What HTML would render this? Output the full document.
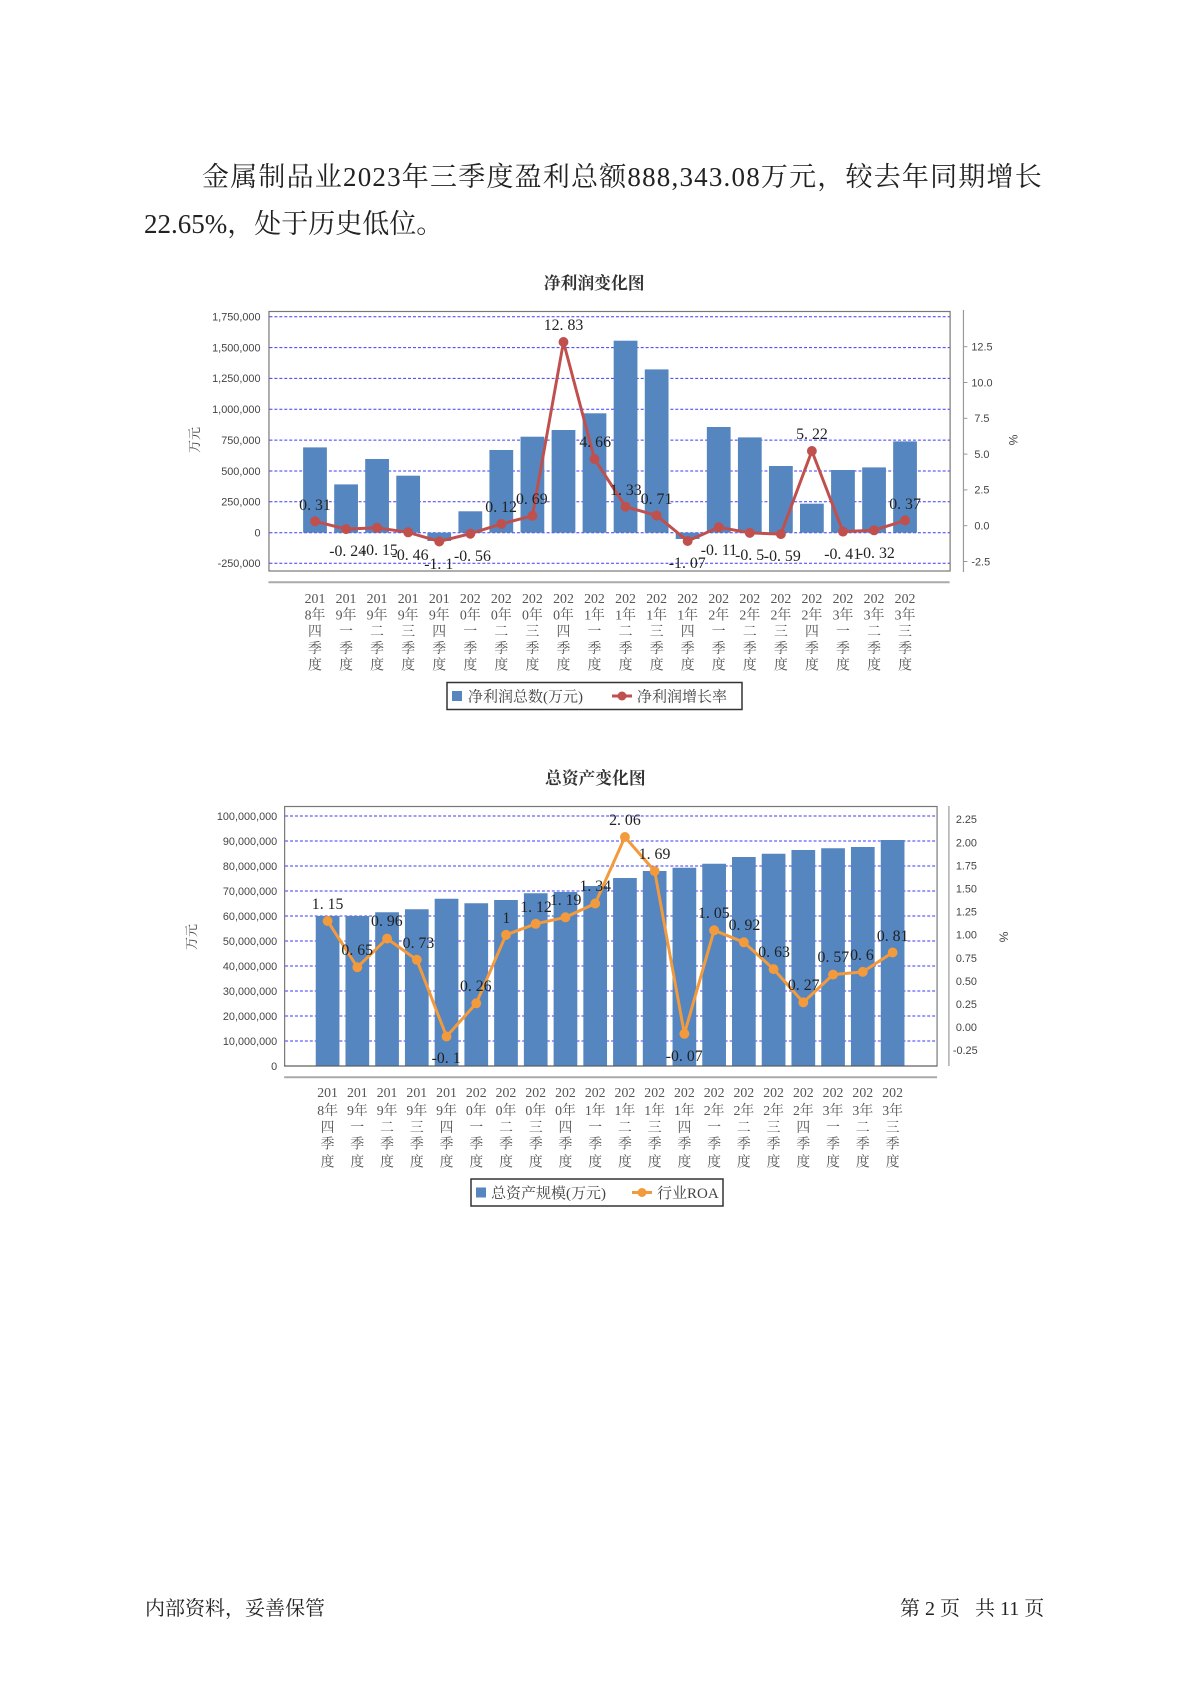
<!DOCTYPE html>
<html><head><meta charset="utf-8"><style>
html,body{margin:0;padding:0;background:#fff;}
body{width:1191px;height:1684px;position:relative;overflow:hidden;font-family:"Liberation Serif","Noto Serif CJK SC",serif;}
.p{position:absolute;font-size:27px;color:#222;white-space:nowrap;}
.f{position:absolute;font-size:20px;color:#222;white-space:nowrap;}
svg{position:absolute;left:0;top:0;}
</style></head><body>
<div class="p" style="left:202px;top:155px;letter-spacing:1.2px;">金属制品业2023年三季度盈利总额888,343.08万元，较去年同期增长</div>
<div class="p" style="left:144px;top:202px;">22.65%，处于历史低位。</div>
<div class="f" style="left:145px;top:1592px;">内部资料，妥善保管</div>
<div class="f" style="left:900px;top:1592px;">第 2 页&nbsp;&nbsp;&nbsp;共 11 页</div>
<svg width="1191" height="1684" viewBox="0 0 1191 1684" font-family="Liberation Serif, Noto Serif CJK SC, serif">
<!-- CHART 1 -->
<g transform="matrix(0.99,0,0,1,1.17,0)">
<text x="599" y="289" text-anchor="middle" font-size="17" font-weight="bold" fill="#333">净利润变化图</text>
<rect x="270.5" y="311.5" width="688" height="259.5" fill="#fff" stroke="#777" stroke-width="1.2"/>
<g stroke="#3a3aff" stroke-width="1" stroke-dasharray="3,2">
<line x1="271" x2="958" y1="316.7" y2="316.7"/><line x1="271" x2="958" y1="347.6" y2="347.6"/><line x1="271" x2="958" y1="378.4" y2="378.4"/><line x1="271" x2="958" y1="409.3" y2="409.3"/><line x1="271" x2="958" y1="440.1" y2="440.1"/><line x1="271" x2="958" y1="471" y2="471"/><line x1="271" x2="958" y1="501.8" y2="501.8"/><line x1="271" x2="958" y1="532.7" y2="532.7"/><line x1="271" x2="958" y1="563.3" y2="563.3"/>
</g>
<g font-family="Liberation Sans, sans-serif" font-size="11" fill="#444" text-anchor="end">
<text x="262" y="320.5">1,750,000</text><text x="262" y="351.4">1,500,000</text><text x="262" y="382.2">1,250,000</text><text x="262" y="413.1">1,000,000</text><text x="262" y="443.9">750,000</text><text x="262" y="474.8">500,000</text><text x="262" y="505.6">250,000</text><text x="262" y="536.5">0</text><text x="262" y="567.1">-250,000</text>
</g>
<text transform="translate(200,440) rotate(-90)" text-anchor="middle" font-size="13" fill="#444">万元</text>
<line x1="972" y1="310" x2="972" y2="572" stroke="#999" stroke-width="1.2"/>
<g stroke="#999"><line x1="972" x2="976" y1="346.7" y2="346.7"/><line x1="972" x2="976" y1="382.5" y2="382.5"/><line x1="972" x2="976" y1="418.3" y2="418.3"/><line x1="972" x2="976" y1="454.1" y2="454.1"/><line x1="972" x2="976" y1="489.9" y2="489.9"/><line x1="972" x2="976" y1="525.7" y2="525.7"/><line x1="972" x2="976" y1="561.5" y2="561.5"/></g>
<g font-family="Liberation Sans, sans-serif" font-size="11" fill="#444">
<text x="980" y="350.5">12.5</text><text x="980" y="386.3">10.0</text><text x="983" y="422.1">7.5</text><text x="983" y="457.9">5.0</text><text x="983" y="493.7">2.5</text><text x="983" y="529.5">0.0</text><text x="980" y="565.3">-2.5</text>
</g>
<text transform="translate(1018,440) rotate(90)" text-anchor="middle" font-family="Liberation Sans, sans-serif" font-size="12" fill="#444">%</text>
<g fill="#5586bf">
<rect x="305" y="447.4" width="24" height="85.3"/><rect x="336.4" y="484.4" width="24" height="48.3"/><rect x="367.7" y="459" width="24" height="73.7"/><rect x="399.1" y="475.7" width="24" height="57"/><rect x="430.5" y="532.7" width="24" height="8.3"/><rect x="461.9" y="511.3" width="24" height="21.4"/><rect x="493.2" y="450" width="24" height="82.7"/><rect x="524.6" y="436.7" width="24" height="96"/><rect x="556" y="430" width="24" height="102.7"/><rect x="587.3" y="413.3" width="24" height="119.4"/><rect x="618.7" y="340.7" width="24" height="192"/><rect x="650.1" y="369.4" width="24" height="163.3"/><rect x="681.4" y="532.7" width="24" height="6.3"/><rect x="712.8" y="427" width="24" height="105.7"/><rect x="744.2" y="437.4" width="24" height="95.3"/><rect x="775.6" y="466" width="24" height="66.7"/><rect x="806.9" y="503.7" width="24" height="29"/><rect x="838.3" y="470" width="24" height="62.7"/><rect x="869.7" y="467.4" width="24" height="65.3"/><rect x="901" y="441.4" width="24" height="91.3"/>
</g>
<polyline fill="none" stroke="#c0504d" stroke-width="3" points="317,521.3 348.4,529.1 379.7,527.8 411.1,532.3 442.5,541.5 473.9,533.7 505.2,524 536.6,515.8 568,342 599.3,459 630.7,506.7 662.1,515.5 693.4,541 724.8,527.3 756.2,532.9 787.6,534.1 818.9,451 850.3,531.6 881.7,530.3 913,520.4"/>
<g fill="#c0504d">
<circle cx="317" cy="521.3" r="5"/><circle cx="348.4" cy="529.1" r="5"/><circle cx="379.7" cy="527.8" r="5"/><circle cx="411.1" cy="532.3" r="5"/><circle cx="442.5" cy="541.5" r="5"/><circle cx="473.9" cy="533.7" r="5"/><circle cx="505.2" cy="524" r="5"/><circle cx="536.6" cy="515.8" r="5"/><circle cx="568" cy="342" r="5"/><circle cx="599.3" cy="459" r="5"/><circle cx="630.7" cy="506.7" r="5"/><circle cx="662.1" cy="515.5" r="5"/><circle cx="693.4" cy="541" r="5"/><circle cx="724.8" cy="527.3" r="5"/><circle cx="756.2" cy="532.9" r="5"/><circle cx="787.6" cy="534.1" r="5"/><circle cx="818.9" cy="451" r="5"/><circle cx="850.3" cy="531.6" r="5"/><circle cx="881.7" cy="530.3" r="5"/><circle cx="913" cy="520.4" r="5"/>
</g>
<g font-size="16" fill="#222" text-anchor="middle">
<text x="317" y="510">0. 31</text><text x="350" y="556">-0. 24</text><text x="382" y="555">-0. 15</text><text x="413" y="560">-0. 46</text><text x="442" y="569">-1. 1</text><text x="476" y="561">-0. 56</text><text x="505" y="512">0. 12</text><text x="536" y="504">0. 69</text><text x="568" y="330">12. 83</text><text x="600" y="447">4. 66</text><text x="631" y="495">1. 33</text><text x="662" y="504">0. 71</text><text x="693" y="568">-1. 07</text><text x="725" y="555">-0. 11</text><text x="756" y="560">-0. 5</text><text x="789" y="561">-0. 59</text><text x="819" y="439">5. 22</text><text x="850" y="559">-0. 41</text><text x="884" y="558">-0. 32</text><text x="913" y="509">0. 37</text>
</g>
<line x1="270" y1="582.3" x2="958" y2="582.3" stroke="#aaa" stroke-width="2"/>
<g font-size="14" fill="#555" text-anchor="middle">
<text x="317" y="603">201</text><text x="317" y="619.5">8年</text><text x="317" y="636">四</text><text x="317" y="653">季</text><text x="317" y="669.5">度</text>
<text x="348.4" y="603">201</text><text x="348.4" y="619.5">9年</text><text x="348.4" y="636">一</text><text x="348.4" y="653">季</text><text x="348.4" y="669.5">度</text>
<text x="379.7" y="603">201</text><text x="379.7" y="619.5">9年</text><text x="379.7" y="636">二</text><text x="379.7" y="653">季</text><text x="379.7" y="669.5">度</text>
<text x="411.1" y="603">201</text><text x="411.1" y="619.5">9年</text><text x="411.1" y="636">三</text><text x="411.1" y="653">季</text><text x="411.1" y="669.5">度</text>
<text x="442.5" y="603">201</text><text x="442.5" y="619.5">9年</text><text x="442.5" y="636">四</text><text x="442.5" y="653">季</text><text x="442.5" y="669.5">度</text>
<text x="473.9" y="603">202</text><text x="473.9" y="619.5">0年</text><text x="473.9" y="636">一</text><text x="473.9" y="653">季</text><text x="473.9" y="669.5">度</text>
<text x="505.2" y="603">202</text><text x="505.2" y="619.5">0年</text><text x="505.2" y="636">二</text><text x="505.2" y="653">季</text><text x="505.2" y="669.5">度</text>
<text x="536.6" y="603">202</text><text x="536.6" y="619.5">0年</text><text x="536.6" y="636">三</text><text x="536.6" y="653">季</text><text x="536.6" y="669.5">度</text>
<text x="568" y="603">202</text><text x="568" y="619.5">0年</text><text x="568" y="636">四</text><text x="568" y="653">季</text><text x="568" y="669.5">度</text>
<text x="599.3" y="603">202</text><text x="599.3" y="619.5">1年</text><text x="599.3" y="636">一</text><text x="599.3" y="653">季</text><text x="599.3" y="669.5">度</text>
<text x="630.7" y="603">202</text><text x="630.7" y="619.5">1年</text><text x="630.7" y="636">二</text><text x="630.7" y="653">季</text><text x="630.7" y="669.5">度</text>
<text x="662.1" y="603">202</text><text x="662.1" y="619.5">1年</text><text x="662.1" y="636">三</text><text x="662.1" y="653">季</text><text x="662.1" y="669.5">度</text>
<text x="693.4" y="603">202</text><text x="693.4" y="619.5">1年</text><text x="693.4" y="636">四</text><text x="693.4" y="653">季</text><text x="693.4" y="669.5">度</text>
<text x="724.8" y="603">202</text><text x="724.8" y="619.5">2年</text><text x="724.8" y="636">一</text><text x="724.8" y="653">季</text><text x="724.8" y="669.5">度</text>
<text x="756.2" y="603">202</text><text x="756.2" y="619.5">2年</text><text x="756.2" y="636">二</text><text x="756.2" y="653">季</text><text x="756.2" y="669.5">度</text>
<text x="787.6" y="603">202</text><text x="787.6" y="619.5">2年</text><text x="787.6" y="636">三</text><text x="787.6" y="653">季</text><text x="787.6" y="669.5">度</text>
<text x="818.9" y="603">202</text><text x="818.9" y="619.5">2年</text><text x="818.9" y="636">四</text><text x="818.9" y="653">季</text><text x="818.9" y="669.5">度</text>
<text x="850.3" y="603">202</text><text x="850.3" y="619.5">3年</text><text x="850.3" y="636">一</text><text x="850.3" y="653">季</text><text x="850.3" y="669.5">度</text>
<text x="881.7" y="603">202</text><text x="881.7" y="619.5">3年</text><text x="881.7" y="636">二</text><text x="881.7" y="653">季</text><text x="881.7" y="669.5">度</text>
<text x="913" y="603">202</text><text x="913" y="619.5">3年</text><text x="913" y="636">三</text><text x="913" y="653">季</text><text x="913" y="669.5">度</text>
</g>
</g>
<rect x="447" y="682.5" width="295" height="27" fill="#fff" stroke="#333" stroke-width="1.5"/>
<rect x="452" y="691" width="10" height="10" fill="#5586bf"/>
<text x="468" y="701.5" font-size="15" fill="#444">净利润总数(万元)</text>
<line x1="612" y1="696" x2="632" y2="696" stroke="#c0504d" stroke-width="3"/><circle cx="622" cy="696" r="4.5" fill="#c0504d"/>
<text x="637" y="701.5" font-size="15" fill="#444">净利润增长率</text>

<!-- CHART 2 -->
<g transform="matrix(0.9878,0,0,1,3.6,0)">
<text x="599" y="784" text-anchor="middle" font-size="17" font-weight="bold" fill="#333">总资产变化图</text>
<rect x="284.5" y="806.5" width="660.5" height="259.5" fill="#fff" stroke="#777" stroke-width="1.2"/>
<g stroke="#3a3aff" stroke-width="1" stroke-dasharray="3,2">
<line x1="285" x2="945" y1="816" y2="816"/><line x1="285" x2="945" y1="841" y2="841"/><line x1="285" x2="945" y1="866" y2="866"/><line x1="285" x2="945" y1="891" y2="891"/><line x1="285" x2="945" y1="916" y2="916"/><line x1="285" x2="945" y1="941" y2="941"/><line x1="285" x2="945" y1="966" y2="966"/><line x1="285" x2="945" y1="991" y2="991"/><line x1="285" x2="945" y1="1016" y2="1016"/><line x1="285" x2="945" y1="1041" y2="1041"/>
</g>
<g font-family="Liberation Sans, sans-serif" font-size="11" fill="#444" text-anchor="end">
<text x="277" y="819.8">100,000,000</text><text x="277" y="844.8">90,000,000</text><text x="277" y="869.8">80,000,000</text><text x="277" y="894.8">70,000,000</text><text x="277" y="919.8">60,000,000</text><text x="277" y="944.8">50,000,000</text><text x="277" y="969.8">40,000,000</text><text x="277" y="994.8">30,000,000</text><text x="277" y="1019.8">20,000,000</text><text x="277" y="1044.8">10,000,000</text><text x="277" y="1069.8">0</text>
</g>
<text transform="translate(195,937) rotate(-90)" text-anchor="middle" font-size="13" fill="#444">万元</text>
<line x1="957" y1="806" x2="957" y2="1066" stroke="#999" stroke-width="1.2"/>
<g font-family="Liberation Sans, sans-serif" font-size="11" fill="#444">
<text x="964" y="823.2">2.25</text><text x="964" y="846.3">2.00</text><text x="964" y="869.4">1.75</text><text x="964" y="892.5">1.50</text><text x="964" y="915.6">1.25</text><text x="964" y="938.7">1.00</text><text x="964" y="961.8">0.75</text><text x="964" y="984.9">0.50</text><text x="964" y="1008">0.25</text><text x="964" y="1031.1">0.00</text><text x="961" y="1054.2">-0.25</text>
</g>
<text transform="translate(1008,937) rotate(90)" text-anchor="middle" font-family="Liberation Sans, sans-serif" font-size="12" fill="#444">%</text>
<g fill="#5586bf">
<rect x="316" y="916" width="24" height="150"/><rect x="346.1" y="916" width="24" height="150"/><rect x="376.2" y="912.25" width="24" height="153.75"/><rect x="406.3" y="909.25" width="24" height="156.75"/><rect x="436.4" y="898.75" width="24" height="167.25"/><rect x="466.5" y="903.25" width="24" height="162.75"/><rect x="496.6" y="900" width="24" height="166"/><rect x="526.7" y="893.25" width="24" height="172.75"/><rect x="556.8" y="892" width="24" height="174"/><rect x="586.9" y="886" width="24" height="180"/><rect x="617" y="878" width="24" height="188"/><rect x="647.1" y="871" width="24" height="195"/><rect x="677.2" y="867.75" width="24" height="198.25"/><rect x="707.3" y="863.75" width="24" height="202.25"/><rect x="737.4" y="857" width="24" height="209"/><rect x="767.5" y="853.75" width="24" height="212.25"/><rect x="797.6" y="850" width="24" height="216"/><rect x="827.7" y="848.25" width="24" height="217.75"/><rect x="857.8" y="847" width="24" height="219"/><rect x="888" y="840" width="24" height="226"/>
</g>
<line x1="284" y1="1066" x2="945" y2="1066" stroke="#555" stroke-width="1"/>
<polyline fill="none" stroke="#f39a3d" stroke-width="3" points="328,921 358.1,967.2 388.2,938.6 418.3,959.8 448.4,1036.5 478.5,1003.3 508.6,934.9 538.7,923.8 568.8,917.3 598.9,903.5 629,837 659.1,871.1 689.2,1033.8 719.3,930.3 749.4,942.3 779.5,969.1 809.6,1002.4 839.7,974.6 869.8,971.9 900,952.5"/>
<g fill="#f39a3d">
<circle cx="328" cy="921" r="5"/><circle cx="358.1" cy="967.2" r="5"/><circle cx="388.2" cy="938.6" r="5"/><circle cx="418.3" cy="959.8" r="5"/><circle cx="448.4" cy="1036.5" r="5"/><circle cx="478.5" cy="1003.3" r="5"/><circle cx="508.6" cy="934.9" r="5"/><circle cx="538.7" cy="923.8" r="5"/><circle cx="568.8" cy="917.3" r="5"/><circle cx="598.9" cy="903.5" r="5"/><circle cx="629" cy="837" r="5"/><circle cx="659.1" cy="871.1" r="5"/><circle cx="689.2" cy="1033.8" r="5"/><circle cx="719.3" cy="930.3" r="5"/><circle cx="749.4" cy="942.3" r="5"/><circle cx="779.5" cy="969.1" r="5"/><circle cx="809.6" cy="1002.4" r="5"/><circle cx="839.7" cy="974.6" r="5"/><circle cx="869.8" cy="971.9" r="5"/><circle cx="900" cy="952.5" r="5"/>
</g>
<g font-size="16" fill="#222" text-anchor="middle">
<text x="328" y="909">1. 15</text><text x="358" y="955">0. 65</text><text x="388" y="926">0. 96</text><text x="420" y="948">0. 73</text><text x="448" y="1063">-0. 1</text><text x="478" y="991">0. 26</text><text x="509" y="923">1</text><text x="539" y="912">1. 12</text><text x="569" y="905">1. 19</text><text x="599" y="891">1. 34</text><text x="629" y="825">2. 06</text><text x="659" y="859">1. 69</text><text x="689" y="1061">-0. 07</text><text x="719" y="918">1. 05</text><text x="750" y="930">0. 92</text><text x="780" y="957">0. 63</text><text x="810" y="990">0. 27</text><text x="840" y="962">0. 57</text><text x="869" y="960">0. 6</text><text x="900" y="941">0. 81</text>
</g>
<line x1="284" y1="1077.3" x2="945" y2="1077.3" stroke="#aaa" stroke-width="2"/>
<g font-size="14" fill="#555" text-anchor="middle">
<text x="328" y="1097">201</text><text x="328" y="1115">8年</text><text x="328" y="1132">四</text><text x="328" y="1148.5">季</text><text x="328" y="1166.5">度</text>
<text x="358.1" y="1097">201</text><text x="358.1" y="1115">9年</text><text x="358.1" y="1132">一</text><text x="358.1" y="1148.5">季</text><text x="358.1" y="1166.5">度</text>
<text x="388.2" y="1097">201</text><text x="388.2" y="1115">9年</text><text x="388.2" y="1132">二</text><text x="388.2" y="1148.5">季</text><text x="388.2" y="1166.5">度</text>
<text x="418.3" y="1097">201</text><text x="418.3" y="1115">9年</text><text x="418.3" y="1132">三</text><text x="418.3" y="1148.5">季</text><text x="418.3" y="1166.5">度</text>
<text x="448.4" y="1097">201</text><text x="448.4" y="1115">9年</text><text x="448.4" y="1132">四</text><text x="448.4" y="1148.5">季</text><text x="448.4" y="1166.5">度</text>
<text x="478.5" y="1097">202</text><text x="478.5" y="1115">0年</text><text x="478.5" y="1132">一</text><text x="478.5" y="1148.5">季</text><text x="478.5" y="1166.5">度</text>
<text x="508.6" y="1097">202</text><text x="508.6" y="1115">0年</text><text x="508.6" y="1132">二</text><text x="508.6" y="1148.5">季</text><text x="508.6" y="1166.5">度</text>
<text x="538.7" y="1097">202</text><text x="538.7" y="1115">0年</text><text x="538.7" y="1132">三</text><text x="538.7" y="1148.5">季</text><text x="538.7" y="1166.5">度</text>
<text x="568.8" y="1097">202</text><text x="568.8" y="1115">0年</text><text x="568.8" y="1132">四</text><text x="568.8" y="1148.5">季</text><text x="568.8" y="1166.5">度</text>
<text x="598.9" y="1097">202</text><text x="598.9" y="1115">1年</text><text x="598.9" y="1132">一</text><text x="598.9" y="1148.5">季</text><text x="598.9" y="1166.5">度</text>
<text x="629" y="1097">202</text><text x="629" y="1115">1年</text><text x="629" y="1132">二</text><text x="629" y="1148.5">季</text><text x="629" y="1166.5">度</text>
<text x="659.1" y="1097">202</text><text x="659.1" y="1115">1年</text><text x="659.1" y="1132">三</text><text x="659.1" y="1148.5">季</text><text x="659.1" y="1166.5">度</text>
<text x="689.2" y="1097">202</text><text x="689.2" y="1115">1年</text><text x="689.2" y="1132">四</text><text x="689.2" y="1148.5">季</text><text x="689.2" y="1166.5">度</text>
<text x="719.3" y="1097">202</text><text x="719.3" y="1115">2年</text><text x="719.3" y="1132">一</text><text x="719.3" y="1148.5">季</text><text x="719.3" y="1166.5">度</text>
<text x="749.4" y="1097">202</text><text x="749.4" y="1115">2年</text><text x="749.4" y="1132">二</text><text x="749.4" y="1148.5">季</text><text x="749.4" y="1166.5">度</text>
<text x="779.5" y="1097">202</text><text x="779.5" y="1115">2年</text><text x="779.5" y="1132">三</text><text x="779.5" y="1148.5">季</text><text x="779.5" y="1166.5">度</text>
<text x="809.6" y="1097">202</text><text x="809.6" y="1115">2年</text><text x="809.6" y="1132">四</text><text x="809.6" y="1148.5">季</text><text x="809.6" y="1166.5">度</text>
<text x="839.7" y="1097">202</text><text x="839.7" y="1115">3年</text><text x="839.7" y="1132">一</text><text x="839.7" y="1148.5">季</text><text x="839.7" y="1166.5">度</text>
<text x="869.8" y="1097">202</text><text x="869.8" y="1115">3年</text><text x="869.8" y="1132">二</text><text x="869.8" y="1148.5">季</text><text x="869.8" y="1166.5">度</text>
<text x="900" y="1097">202</text><text x="900" y="1115">3年</text><text x="900" y="1132">三</text><text x="900" y="1148.5">季</text><text x="900" y="1166.5">度</text>
</g>
</g>
<rect x="471" y="1179" width="252" height="27" fill="#fff" stroke="#333" stroke-width="1.5"/>
<rect x="476" y="1187.5" width="10" height="10" fill="#5586bf"/>
<text x="491" y="1198" font-size="15" fill="#444">总资产规模(万元)</text>
<line x1="632" y1="1192.5" x2="652" y2="1192.5" stroke="#f39a3d" stroke-width="3"/><circle cx="642" cy="1192.5" r="4.5" fill="#f39a3d"/>
<text x="657" y="1198" font-size="15" fill="#444">行业ROA</text>
</svg>
</body></html>
